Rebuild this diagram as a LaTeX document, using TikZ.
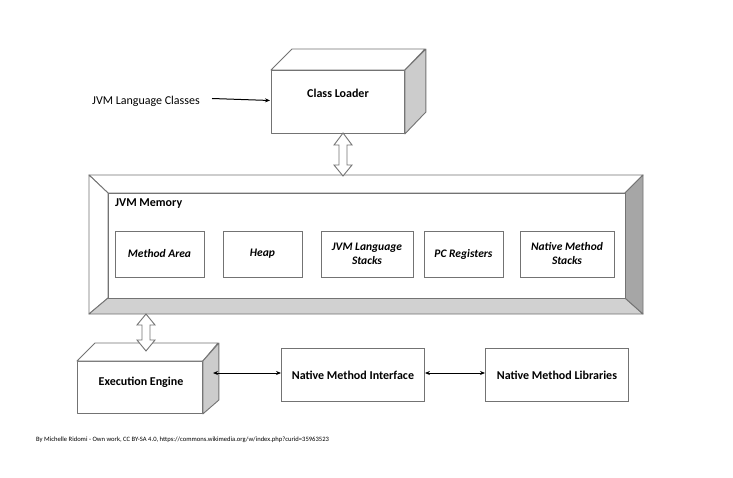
\documentclass[tikz,border=0pt]{standalone}
\usepackage{fontspec}
\setmainfont{Carlito}
\usetikzlibrary{arrows.meta,calc}
\definecolor{edge}{gray}{0.45}
\definecolor{sidegray}{gray}{0.80}
\definecolor{bevdark}{gray}{0.65}
\definecolor{bevlight}{gray}{0.82}
\begin{document}
\begin{tikzpicture}[x=1pt,y=-1pt,
  face/.style={draw=edge, fill=white, line width=0.9pt, line join=round},
  side/.style={draw=edge, fill=sidegray, line width=0.9pt, line join=round},
  membox/.style={draw=edge, fill=white, line width=0.9pt, minimum height=46pt, align=center,
    font=\fontsize{11.5}{14}\selectfont\itshape\bfseries, inner sep=0pt},
  plainbox/.style={draw=edge, fill=white, line width=0.9pt, minimum width=143pt, minimum height=53pt,
    font=\fontsize{12}{14}\selectfont\bfseries, inner sep=0pt},
  lbl/.style={font=\fontsize{12}{14}\selectfont\bfseries, inner sep=0pt},
  thin/.style={draw=black, line width=1pt, {Stealth[length=5pt,width=4pt]}-{Stealth[length=5pt,width=4pt]}},
  hollow/.style={draw=edge, fill=white, line width=0.9pt, line join=miter}
]
\useasboundingbox (0,0) rectangle (733,478);
\fill[white] (0,0) rectangle (733,478);

% ---------- Class Loader (3D box) ----------
\node[face, minimum width=133pt, minimum height=63pt, anchor=north west, inner sep=0pt] (cl) at (271,70) {};
\draw[face] (cl.north west) -- ++(21,-21) -- ++(133,0) -- (cl.north east) -- cycle;
\draw[side] (cl.north east) -- ++(21,-21) -- ++(0,63) -- (cl.south east) -- cycle;
\node[lbl] (cltext) at (338,93) {Class Loader};

% input text + arrow
\node[font=\fontsize{12}{14}\selectfont, anchor=west, inner sep=0pt] (jlc) at (92,101) {JVM Language Classes};
\coordinate (clin) at (270,100.5);
\draw[black, line width=1pt, -{Stealth[length=5pt,width=4pt]}] (212,98.5) -- (clin);

% ---------- JVM Memory bevelled frame ----------
\coordinate (oTL) at (89,175);  \coordinate (oTR) at (643,175);
\coordinate (oBL) at (89,314);  \coordinate (oBR) at (643,314);
\coordinate (iTL) at (108,193); \coordinate (iTR) at (625,193);
\coordinate (iBL) at (108,298); \coordinate (iBR) at (625,298);
\draw[face] (oTL) -- (oTR) -- (iTR) -- (iTL) -- cycle;
\draw[face] (oTL) -- (iTL) -- (iBL) -- (oBL) -- cycle;
\draw[draw=edge, fill=bevlight, line width=0.9pt, line join=round] (oBL) -- (iBL) -- (iBR) -- (oBR) -- cycle;
\draw[draw=edge, fill=bevdark, line width=0.9pt, line join=round] (oTR) -- (oBR) -- (iBR) -- (iTR) -- cycle;
\draw[face] (iTL) rectangle (iBR);
\node[lbl, anchor=west] (memlbl) at (115,204) {JVM Memory};

% memory areas
\node[membox, minimum width=89pt] (ma) at (159.5,254) {Method Area};
\node[membox, minimum width=79pt] (heap) at (262.5,254) {Heap};
\node[membox, minimum width=92pt] (jls) at (367,254) {JVM Language\\Stacks};
\node[membox, minimum width=79pt] (pc) at (463.5,254) {PC Registers};
\node[membox, minimum width=94pt] (nms) at (567,254) {Native Method\\Stacks};

% hollow double arrow Class Loader <-> Memory
\draw[hollow] (343,133) -- (352,145) -- (347,145) -- (347,165) -- (352,165) -- (343,176)
  -- (334,165) -- (339,165) -- (339,145) -- (334,145) -- cycle;

% ---------- Execution Engine (3D box) ----------
\node[face, minimum width=125pt, minimum height=52pt, anchor=north west, inner sep=0pt] (ee) at (77,361) {};
\draw[face] (ee.north west) -- ++(18,-18) -- ++(123,0) -- (ee.north east) -- cycle;
\draw[side] (ee.north east) -- ++(16,-18) -- ++(0,57) -- (ee.south east) -- cycle;
\node[lbl] (eetext) at (141,382) {Execution Engine};

% hollow double arrow Memory <-> Execution Engine
\draw[hollow] (146,314) -- (155,325) -- (150,325) -- (150,340) -- (155,340) -- (146,351)
  -- (137,340) -- (142,340) -- (142,325) -- (137,325) -- cycle;

% ---------- Native method boxes ----------
\node[plainbox, anchor=north west] (nmi) at (281,348) {Native Method Interface};
\node[plainbox, anchor=north west] (nml) at (485,348) {Native Method Libraries};
\coordinate (eeside) at (213,373);
\draw[thin] (eeside) -- (nmi.west |- eeside);
\draw[thin] (nmi.east |- eeside) -- (nml.west |- eeside);

% credit
\node[font=\fontsize{6.6}{8}\selectfont, anchor=west, inner sep=0pt] (credit) at (36,440)
  {By Michelle Ridomi - Own work, CC BY-SA 4.0, https://commons.wikimedia.org/w/index.php?curid=35963523};
\end{tikzpicture}
\end{document}
